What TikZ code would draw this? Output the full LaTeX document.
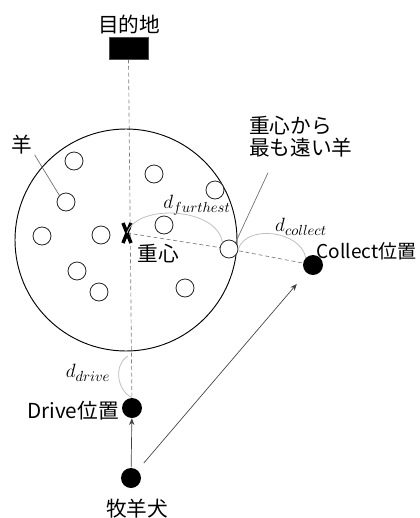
\documentclass[tikz,border=0pt]{standalone}
\usepackage{fontspec}
\setmainfont{Noto Sans CJK JP}
\usetikzlibrary{arrows.meta,backgrounds}
\begin{document}
\begin{tikzpicture}[x=0.75pt,y=-0.75pt,
  sheep/.style={circle,draw=black!85,fill=white,minimum size=13.5pt,inner sep=0pt,line width=0.6pt},
  dot/.style={circle,fill=black,minimum size=15pt,inner sep=0pt},
  lbl/.style={font=\fontsize{15.5}{16.5}\selectfont,inner sep=0pt},
  mlbl/.style={font=\fontsize{15.5}{17}\selectfont,inner sep=0pt},
  dline/.style={gray,line width=0.5pt,dash pattern=on 3pt off 2pt},
  arcline/.style={gray!50,line width=0.6pt},
  ptr/.style={gray!85!black,line width=0.5pt},
  arr/.style={-{Stealth[length=5pt,width=4pt]},black!75,line width=0.5pt}]
\useasboundingbox (0,0) rectangle (419,518);

% flock boundary
\node[draw,circle,minimum size=166.5pt,inner sep=0pt,line width=0.7pt] (flock) at (126,240) {};

% destination
\node[lbl] (destl) at (129,25) {目的地};
\node[fill=black,draw=black!70,minimum width=29.25pt,minimum height=16.5pt,inner sep=0pt] (dest) at (128.5,48) {};

% sheep
\node[sheep] (s1) at (74,161) {};
\node[sheep] (s2) at (154,174) {};
\node[sheep] (s3) at (215,190) {};
\node[sheep] (s4) at (66,202) {};
\node[sheep] (s5) at (164,225) {};
\node[sheep] (s6) at (42,236) {};
\node[sheep] (s7) at (101,235) {};
\node[sheep] (far) at (229,249) {};
\node[sheep] (s9) at (77,271) {};
\node[sheep] (s10) at (99,292) {};
\node[sheep] (s11) at (185,288) {};

% centroid
\coordinate (g) at (127,233);
\draw[line width=2.6pt] ([shift={(-4,-10)}]g) -- ([shift={(4,10)}]g);
\draw[line width=2.6pt] ([shift={(4,-10)}]g) -- ([shift={(-4,10)}]g);
\node[lbl] (gl) at (158,254) {重心};

% dots
\node[dot] (collect) at (313,265) {};
\node[dot] (drive) at (132,408) {};
\node[dot] (dog) at (131,478) {};

% labels
\node[lbl] (sheepl) at (22,145) {羊};
\node[lbl,align=left,anchor=west] (farl) at (249,137) {重心から\\最も遠い羊};
\node[lbl,font=\fontsize{14.3}{16}\selectfont,anchor=east] (coll) at (417,251) {Collect位置};
\node[lbl,anchor=east] (drivel) at (119,411) {Drive位置};
\node[lbl] (dogl) at (137,509) {牧羊犬};
\node[mlbl] (dfl) at (197,205) {$d_{furthest}$};
\node[mlbl] (dcl) at (301,227) {$d_{collect}$};
\node[mlbl] (ddl) at (88,373) {$d_{drive}$};

\coordinate (bot) at (128,356);

\begin{scope}[on background layer]
  \draw[dline] (dest.south) -- (drive.center);
  \draw[dline] (g) -- (far.center) -- (collect.center);
\end{scope}

% distance arcs
\draw[arcline] (g) .. controls +(10,-30) and +(-5,-35) .. (far.north west);
\draw[arcline] (far.east) .. controls +(8,-25) and +(-5,-27) .. (collect.north west);
\draw[arcline] (bot) .. controls +(-14,8) and +(-16,-8) .. (drive.north);

% pointers
\draw[ptr] ([shift={(2,0)}]sheepl.south east) -- (s4.north west);
\draw[ptr] ([shift={(19,15)}]farl.south west) -- (far.north east);

% arrows
\draw[arr] (dog) -- (drive);
\draw[arr,shorten <=7pt,shorten >=11pt] (dog) -- (collect);
\end{tikzpicture}
\end{document}
